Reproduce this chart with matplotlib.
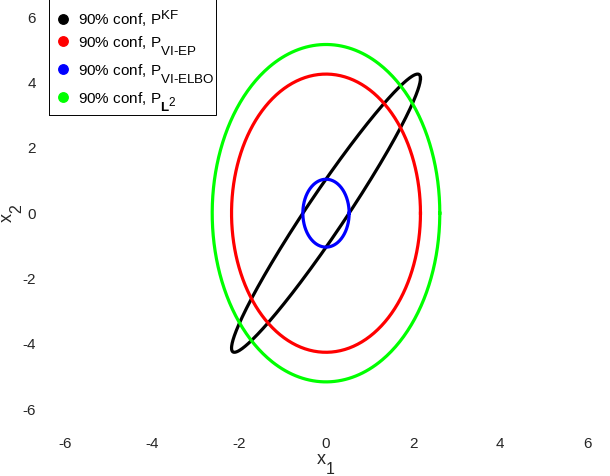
import numpy as np
import matplotlib
matplotlib.use("Agg")
import matplotlib.pyplot as plt
import matplotlib._mathtext as _mt
from matplotlib.lines import Line2D
from matplotlib.patches import Rectangle

# larger, lower sub/superscripts, like the reference's TeX interpreter
_mt.SHRINK_FACTOR = 0.88
_mt.FontConstantsBase.sub1 = 1.0
_mt.FontConstantsBase.sub2 = 0.9

plt.rcParams['font.family'] = ['Liberation Sans', 'DejaVu Sans']
plt.rcParams['mathtext.fontset'] = 'custom'
plt.rcParams['mathtext.rm'] = 'Liberation Sans'
plt.rcParams['mathtext.it'] = 'Liberation Sans'
plt.rcParams['mathtext.bf'] = 'Liberation Sans:bold'

# Data: covariance matrices (read from the ellipses), 90% confidence
chi2_90 = 4.605
mean = [0.0, 0.0]
P_KF = [[1.024, 1.945], [1.945, 3.93]]
P_VI_EP = [[1.024, 0.0], [0.0, 3.93]]
P_VI_ELBO = [[0.0615, 0.0], [0.0, 0.234]]
P_L2 = [[1.486, 0.0], [0.0, 5.78]]

labels = [r'90% conf, P$^{\mathregular{KF}}$',
          r'90% conf, P$_{\mathregular{VI\text{-}EP}}$',
          r'90% conf, P$_{\mathregular{VI\text{-}ELBO}}$',
          r'90% conf, P$_{\mathbf{L}^{\mathregular{2}}}$']
colors = ['#000000', '#ff0000', '#0000ff', '#00ff00']
covs = [P_KF, P_VI_EP, P_VI_ELBO, P_L2]

xticks = [-6, -4, -2, 0, 2, 4, 6]
yticks = [-6, -4, -2, 0, 2, 4, 6]

W, H = 610, 476
fig = plt.figure(figsize=(W / 100, H / 100), dpi=100)
ax = fig.add_axes([65 / W, 1 - 411 / H, (587 - 65) / W, (411 - 17) / H])

t = np.linspace(0, 2 * np.pi, 400)
circ = np.vstack([np.cos(t), np.sin(t)])
for P, c in zip(covs, colors):
    L = np.linalg.cholesky(np.array(P) * chi2_90)
    pts = L @ circ
    ax.plot(pts[0] + mean[0], pts[1] + mean[1], color=c, lw=2.3, solid_joinstyle='round')

ax.set_xlim(-6, 6)
ax.set_ylim(-6.05, 5.95)
ax.set_xticks(xticks)
ax.set_yticks(yticks)
ax.set_xticklabels([str(v) for v in xticks])
ax.set_yticklabels([str(v) for v in yticks])
for s in ax.spines.values():
    s.set_visible(False)
ax.tick_params(axis='x', length=0, pad=19, labelsize=11, labelcolor='#262626')
ax.tick_params(axis='y', length=0, pad=21, labelsize=11, labelcolor='#262626')

fig.text(326 / W, 1 - 464 / H, r'x$_{\mathregular{1}}$', ha='center', va='center', fontsize=13, color='#262626')
fig.text(12 / W, 1 - 213 / H, r'x$_{\mathregular{2}}$', ha='center', va='center', fontsize=13, rotation=90, color='#262626')

handles = [Line2D([], [], ls='none', marker='o', markersize=6.8, color=c) for c in colors]
leg = fig.legend(handles, labels, loc='upper left', bbox_to_anchor=(49 / W, 1 - 6 / H),
                 frameon=True, fancybox=False, framealpha=1, edgecolor='none',
                 fontsize=11, handlelength=1.55, handletextpad=0.2, labelspacing=0.33,
                 borderpad=0.12, borderaxespad=0)

# legend frame whose top edge runs above the canvas, as in the reference
fig.canvas.draw()
bb = leg.get_window_extent()
fig.patches.append(Rectangle((bb.x0, bb.y0), bb.width, (H - bb.y0) + 10,
                             transform=None, fill=False, edgecolor='black',
                             lw=0.7, zorder=10))

fig.savefig('out.png', dpi=100)
